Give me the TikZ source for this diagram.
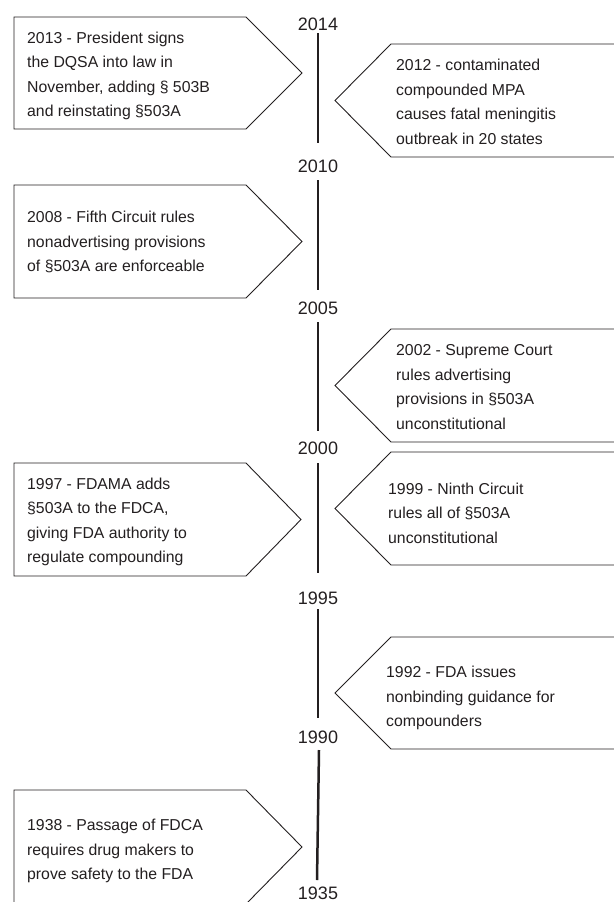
\documentclass[tikz,border=0pt]{standalone}
\usepackage{fontspec}
\setmainfont{Liberation Sans}
\definecolor{ink}{RGB}{35,31,32}
\begin{document}
\begin{tikzpicture}[x=1pt,y=-1pt,
  evbox/.style={draw=ink,line width=0.9pt,line join=miter,fill=white},
  evtext/.style={inner sep=0pt,align=left,anchor=west,text=ink,
     font=\fontsize{15.8}{24.5}\selectfont},
  yr/.style={inner sep=0pt,text=ink,font=\fontsize{18}{20}\selectfont},
  tl/.style={draw=ink,line width=2.5pt}]
\useasboundingbox (0,0) rectangle (613,902);
% year labels
\node[yr] (y2014) at (318,24) {2014};
\node[yr] (y2010) at (318,166) {2010};
\node[yr] (y2005) at (318,308) {2005};
\node[yr] (y2000) at (318,448) {2000};
\node[yr] (y1995) at (318,598) {1995};
\node[yr] (y1990) at (318,737) {1990};
\node[yr] (y1935) at (318,893.5) {1935};
% timeline segments
\coordinate (s1a) at (318,33);  \coordinate (s1b) at (318,143);
\coordinate (s2a) at (318,180); \coordinate (s2b) at (318,290);
\coordinate (s3a) at (318,322); \coordinate (s3b) at (318,431);
\coordinate (s4a) at (318,463); \coordinate (s4b) at (318,573);
\coordinate (s5a) at (318,609); \coordinate (s5b) at (318,718);
\coordinate (s6a) at (319,750); \coordinate (s6b) at (317,880);
\draw[tl] (s1a) -- (s1b);
\draw[tl] (s2a) -- (s2b);
\draw[tl] (s3a) -- (s3b);
\draw[tl] (s4a) -- (s4b);
\draw[tl] (s5a) -- (s5b);
\draw[tl] (s6a) -- (s6b);
% left boxes (point right)
\draw[evbox] (14,17) -- (246,17) -- (302,73) -- (246,129) -- (14,129) -- cycle;
\draw[evbox] (14,185) -- (246,185) -- (302,241.5) -- (246,298) -- (14,298) -- cycle;
\draw[evbox] (14,463) -- (246,463) -- (301,519.5) -- (246,576) -- (14,576) -- cycle;
\draw[evbox] (14,790) -- (246,790) -- (302,847) -- (246,904) -- (14,904) -- cycle;
% right boxes (point left)
\draw[evbox] (625,44) -- (391,44) -- (335,100.5) -- (391,157) -- (625,157);
\draw[evbox] (625,329) -- (391,329) -- (335,385.5) -- (391,442) -- (625,442);
\draw[evbox] (625,452) -- (391,452) -- (335,508.5) -- (391,565) -- (625,565);
\draw[evbox] (625,637) -- (391,637) -- (335,693) -- (391,749) -- (625,749);
% texts
\node[evtext] (e2013) at (27,76) {2013 - President signs\\the DQSA into law in\\November, adding § 503B\\and reinstating §503A};
\node[evtext] (e2012) at (396,102) {2012 - contaminated\\compounded MPA\\causes fatal meningitis\\outbreak in 20 states};
\node[evtext] (e2008) at (27,242) {2008 - Fifth Circuit rules\\nonadvertising provisions\\of §503A are enforceable};
\node[evtext] (e2002) at (396,387) {2002 - Supreme Court\\rules advertising\\provisions in §503A\\unconstitutional};
\node[evtext] (e1999) at (388,513) {1999 - Ninth Circuit\\rules all of §503A\\unconstitutional};
\node[evtext] (e1997) at (27,522) {1997 - FDAMA adds\\§503A to the FDCA,\\giving FDA authority to\\regulate compounding};
\node[evtext] (e1992) at (386,698) {1992 - FDA issues\\nonbinding guidance for\\compounders};
\node[evtext] (e1938) at (27,851) {1938 - Passage of FDCA\\requires drug makers to\\prove safety to the FDA};
\end{tikzpicture}
\end{document}
